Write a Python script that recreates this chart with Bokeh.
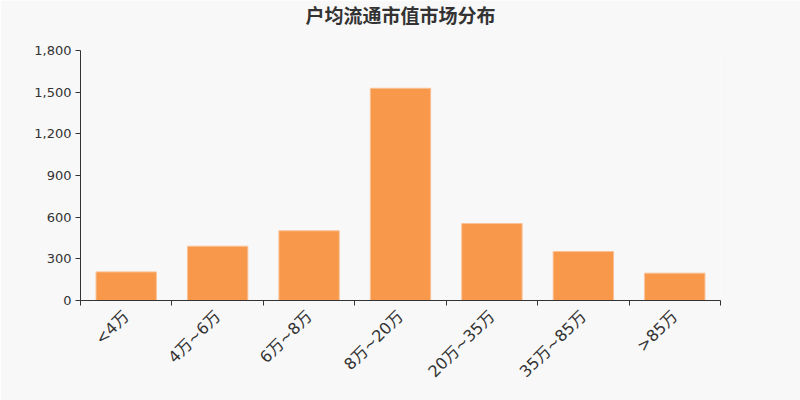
import math
from bokeh.plotting import figure
from bokeh.models import FixedTicker, NumeralTickFormatter, Range1d, Title
from bokeh.embed import file_html
from bokeh.resources import INLINE

# データ
categories = ["<4万", "4万~6万", "6万~8万", "8万~20万", "20万~35万", "35万~85万", ">85万"]
counts = [206, 391, 502, 1528, 554, 353, 197]
y_ticks = [0, 300, 600, 900, 1200, 1500, 1800]
title_text = "户均流通市值市场分布"

BG = "#f8f8f8"
TXT = "#333333"
FONT = "DejaVu Sans, Noto Sans CJK SC"

xs = [i + 0.5 for i in range(len(categories))]

p = figure(width=800, height=400, output_backend="svg", toolbar_location=None,
           x_range=Range1d(0, len(categories)), y_range=Range1d(0, 1800),
           min_border_left=80, min_border_right=80, min_border_top=50, min_border_bottom=100,
           frame_width=640, frame_height=250)
p.background_fill_color = BG
p.border_fill_color = BG
p.outline_line_color = None
p.grid.grid_line_color = None

# タイトル (下に空白用のタイトルを挟んで上に寄せる)
p.add_layout(Title(text=" ", text_font_size="10px", standoff=8), "above")
p.add_layout(Title(text=title_text, align="center", vertical_align="middle",
                   text_font_size="19px", text_font_style="bold", text_color=TXT,
                   text_font=FONT, standoff=4), "above")

p.vbar(x=xs, top=counts, width=0.66, bottom=0,
       fill_color="#f7984a", line_color="#fbc196", line_width=1)

# x軸: ラベルは中央、目盛りは境界
p.xaxis.ticker = FixedTicker(ticks=xs, minor_ticks=list(range(len(categories) + 1)))
p.xaxis.major_label_overrides = {x: c for x, c in zip(xs, categories)}
p.xaxis.major_tick_out = 0
p.xaxis.major_tick_in = 0
p.xaxis.minor_tick_out = 5
p.xaxis.minor_tick_in = 0
p.xaxis.minor_tick_line_color = TXT
p.xaxis.major_label_orientation = math.pi / 4
p.xaxis.major_label_text_font_size = "16px"
p.xaxis.major_label_standoff = 8

# y軸
p.yaxis.ticker = FixedTicker(ticks=y_ticks)
p.yaxis.formatter = NumeralTickFormatter(format="0,0")
p.yaxis.minor_tick_line_color = None
p.yaxis.major_tick_out = 5
p.yaxis.major_tick_in = 0
p.yaxis.major_label_text_font_size = "13px"
p.yaxis.major_label_standoff = 4

for ax in (p.xaxis, p.yaxis):
    ax.axis_line_color = TXT
    ax.major_tick_line_color = TXT
    ax.major_label_text_color = TXT
    ax.major_label_text_font = FONT

open("out.html", "w").write(file_html(p, INLINE))
